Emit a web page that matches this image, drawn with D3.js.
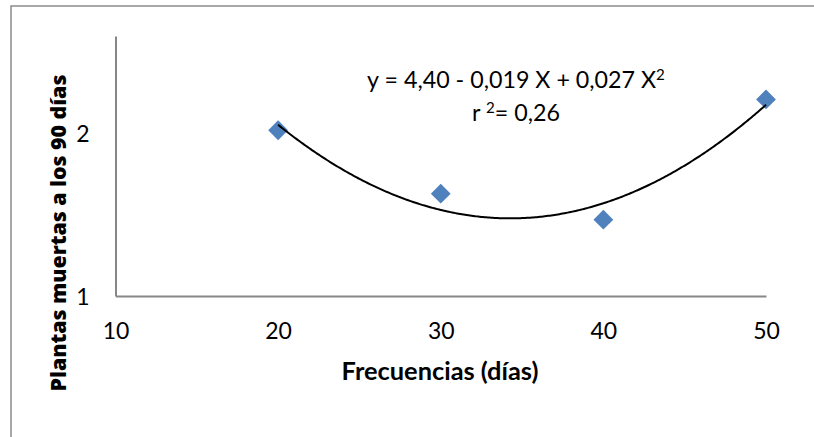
<!DOCTYPE html>
<html><head><meta charset="utf-8">
<script src="https://cdn.jsdelivr.net/npm/d3@7"></script>
<style>html,body{margin:0;padding:0;background:#fff;} svg{display:block;}</style>
</head><body>
<svg id="c" width="814" height="437"></svg>
<script>
const frecuencias = [20, 30, 40, 50];
const plantasMuertas = [2.02, 1.63, 1.47, 2.21];
const xTicks = [10, 20, 30, 40, 50];
const yTicks = [1, 2];
const xTitle = "Frecuencias (días)";
const yTitle = "Plantas muertas a los 90 días";

const svg = d3.select("#c");
const F = "Lato, 'Open Sans', sans-serif";

// outer frame
svg.append("rect").attr("x", 11).attr("y", 6).attr("width", 900).attr("height", 600)
  .attr("fill", "none").attr("stroke", "#8c8c8c").attr("stroke-width", 1.5);

const x = d3.scaleLinear().domain([10, 50]).range([115.5, 766]);
const y = d3.scaleLinear().domain([1, 2.6]).range([296, 36]);

// axes
const xAxis = svg.append("g").attr("transform", `translate(0,${y(1)})`)
  .call(d3.axisBottom(x).tickValues(xTicks).tickSize(0).tickPadding(0).tickFormat(d3.format("d")));
xAxis.select(".domain").attr("stroke", "#878787").attr("stroke-width", 2);
xAxis.selectAll("text").attr("font-family", F).attr("font-size", 23).attr("fill", "#000")
  .attr("dy", null).attr("y", 43);

const yAxis = svg.append("g").attr("transform", `translate(${x(10)},0)`)
  .call(d3.axisLeft(y).tickValues(yTicks).tickSize(0).tickPadding(0).tickFormat(d3.format("d")));
yAxis.select(".domain").attr("stroke", "#878787").attr("stroke-width", 2);
yAxis.selectAll("text").attr("font-family", F).attr("font-size", 23).attr("fill", "#000")
  .attr("x", -26).attr("dy", "0.36em");

// quadratic least-squares trend line from the data
function polyfit2(xs, ys) {
  const n = xs.length;
  let S = [0,0,0,0,0], T = [0,0,0];
  for (let i = 0; i < n; i++) {
    for (let k = 0; k < 5; k++) S[k] += Math.pow(xs[i], k);
    for (let k = 0; k < 3; k++) T[k] += ys[i] * Math.pow(xs[i], k);
  }
  const A = [[S[0],S[1],S[2],T[0]],[S[1],S[2],S[3],T[1]],[S[2],S[3],S[4],T[2]]];
  for (let i = 0; i < 3; i++) {
    for (let j = i+1; j < 3; j++) {
      const f = A[j][i] / A[i][i];
      for (let k = i; k < 4; k++) A[j][k] -= f * A[i][k];
    }
  }
  const c = [0,0,0];
  for (let i = 2; i >= 0; i--) {
    let s = A[i][3];
    for (let k = i+1; k < 3; k++) s -= A[i][k] * c[k];
    c[i] = s / A[i][i];
  }
  return c;
}
const coef = polyfit2(frecuencias, plantasMuertas);
const trend = d3.range(0, 301).map(i => {
  const xv = frecuencias[0] + (frecuencias[frecuencias.length-1] - frecuencias[0]) * i / 300;
  return [xv, coef[0] + coef[1]*xv + coef[2]*xv*xv];
});

// markers
const sym = d3.symbol().type(d3.symbolDiamond2).size(250);
svg.append("g").selectAll("path").data(frecuencias).join("path")
  .attr("transform", (d, i) => `translate(${x(d)},${y(plantasMuertas[i])})`)
  .attr("d", sym).attr("fill", "#4f81bd");

svg.append("path").datum(trend)
  .attr("d", d3.line().x(d => x(d[0])).y(d => y(d[1])))
  .attr("fill", "none").attr("stroke", "#000").attr("stroke-width", 2);

function fit(sel, target) {
  const fs = parseFloat(sel.attr("font-size"));
  const w = sel.node().getComputedTextLength();
  sel.attr("font-size", fs * target / w);
}

// equation
const eq = svg.append("text").attr("x", 516).attr("y", 88).attr("text-anchor", "middle")
  .attr("font-family", F).attr("font-size", 22).attr("fill", "#000");
eq.append("tspan").text("y = 4,40 - 0,019 X + 0,027 X");
eq.append("tspan").text("2").attr("font-size", "0.65em").attr("dy", "-0.55em");
fit(eq, 298);

const r2 = svg.append("text").attr("x", 516).attr("y", 121).attr("text-anchor", "middle")
  .attr("font-family", F).attr("font-size", eq.attr("font-size")).attr("fill", "#000");
r2.append("tspan").text("r ");
r2.append("tspan").text("2").attr("font-size", "0.65em").attr("dy", "-0.55em");
r2.append("tspan").text("= 0,26").attr("dy", "0.36em");

// axis titles
const xt = svg.append("text").attr("x", 440).attr("y", 380).attr("text-anchor", "middle")
  .attr("font-family", F).attr("font-weight", "bold").attr("font-size", 22).attr("fill", "#000").text(xTitle);
fit(xt, 197);

const yt = svg.append("text").attr("transform", "translate(66,233) rotate(-90)").attr("text-anchor", "middle")
  .attr("font-family", "'Open Sans', sans-serif").attr("font-weight", 800).attr("font-size", 20)
  .attr("fill", "#000").text(yTitle);
fit(yt, 317);
</script>
</body></html>
